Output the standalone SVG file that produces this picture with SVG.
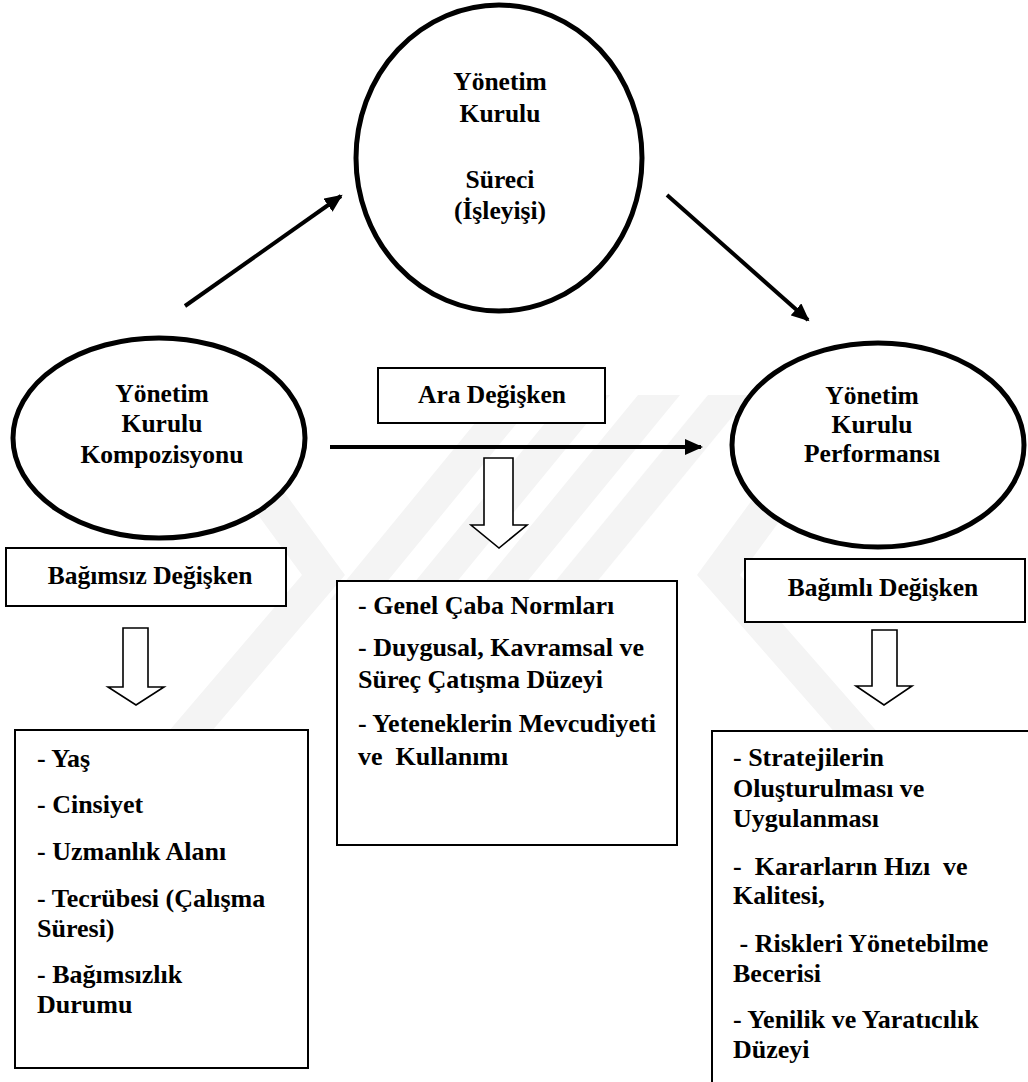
<svg xmlns="http://www.w3.org/2000/svg" width="1028" height="1082" viewBox="0 0 1028 1082">
<defs>
<style>
text{font-family:"Liberation Serif","Times New Roman",Times,serif;font-weight:bold;fill:#000}
.lbl{font-size:25.5px;text-anchor:middle}
.lst{font-size:26px}
.ell{fill:#fff;stroke:#000;stroke-width:5}
.box{fill:#fff;stroke:#000;stroke-width:2}
.hol{fill:#fff;stroke:#000;stroke-width:1.6;stroke-linejoin:miter}
.con{stroke:#000;stroke-width:4;fill:none}
.wm{fill:#f4f4f4}
</style>
<marker id="ah" markerUnits="userSpaceOnUse" markerWidth="20" markerHeight="16" refX="16" refY="8" orient="auto">
<path d="M0,0 L18,8 L0,16 Z" fill="#000"/>
</marker>
</defs>
<rect width="1028" height="1082" fill="#fff"/>
<g id="watermark">
<polygon class="wm" points="225,470 268,470 345,575 200,745 157,745 302,575"/>
<polygon class="wm" points="330,600 372,600 540,395 498,395"/>
<polygon class="wm" points="400,600 442,600 610,395 568,395"/>
<polygon class="wm" points="470,600 512,600 680,395 638,395"/>
<polygon class="wm" points="540,600 582,600 750,395 708,395"/>
<polygon class="wm" points="785,455 828,455 740,575 880,735 837,735 697,575"/>
</g>
<g id="connectors">
<line class="con" x1="185" y1="306" x2="341" y2="196" marker-end="url(#ah)"/>
<line class="con" x1="667" y1="195" x2="808" y2="320" marker-end="url(#ah)"/>
<line class="con" x1="330" y1="447" x2="701" y2="447" marker-end="url(#ah)"/>
<path class="hol" d="M123,628 H148 V687 H164 L136,705 L108,687 H123 Z"/>
<path class="hol" d="M484,458 H513 V525 H527 L499,548 L471,525 H484 Z"/>
<path class="hol" d="M872,630 H897 V686 H912 L884,705 L856,686 H872 Z"/>
</g>
<g id="node-surec">
<ellipse class="ell" cx="499" cy="158" rx="143" ry="153"/>
<text class="lbl" x="500" y="90">Yönetim</text>
<text class="lbl" x="500" y="122">Kurulu</text>
<text class="lbl" x="500" y="188">Süreci</text>
<text class="lbl" x="500" y="219">(İşleyişi)</text>
</g>
<g id="node-kompozisyon">
<ellipse class="ell" cx="159" cy="438" rx="146" ry="100"/>
<text class="lbl" x="162" y="402">Yönetim</text>
<text class="lbl" x="162" y="432">Kurulu</text>
<text class="lbl" x="162" y="463">Kompozisyonu</text>
</g>
<g id="node-performans">
<ellipse class="ell" cx="878" cy="445" rx="146" ry="102"/>
<text class="lbl" x="872" y="404">Yönetim</text>
<text class="lbl" x="872" y="433">Kurulu</text>
<text class="lbl" x="872" y="462">Performansı</text>
</g>
<g id="node-ara">
<rect class="box" x="378" y="368" width="227" height="55"/>
<text class="lbl" x="492" y="403">Ara Değişken</text>
</g>
<g id="node-bagimsiz">
<rect class="box" x="6" y="548" width="280" height="58"/>
<text class="lbl" x="150" y="584">Bağımsız Değişken</text>
</g>
<g id="node-bagimli">
<rect class="box" x="745" y="559" width="280" height="63"/>
<text class="lbl" x="883" y="596">Bağımlı Değişken</text>
</g>
<g id="node-ara-list">
<rect class="box" x="337" y="581" width="340" height="264"/>
<text class="lst" x="358" y="614">- Genel Çaba Normları</text>
<text class="lst" x="358" y="656">- Duygusal, Kavramsal ve</text>
<text class="lst" x="358" y="688">Süreç Çatışma Düzeyi</text>
<text class="lst" x="358" y="732">- Yeteneklerin Mevcudiyeti</text>
<text class="lst" x="358" y="765" xml:space="preserve">ve  Kullanımı</text>
</g>
<g id="node-bagimsiz-list">
<rect class="box" x="15" y="730" width="293" height="338"/>
<text class="lst" x="37" y="767">- Yaş</text>
<text class="lst" x="37" y="813">- Cinsiyet</text>
<text class="lst" x="37" y="860">- Uzmanlık Alanı</text>
<text class="lst" x="37" y="907">- Tecrübesi (Çalışma</text>
<text class="lst" x="37" y="937">Süresi)</text>
<text class="lst" x="37" y="983">- Bağımsızlık</text>
<text class="lst" x="37" y="1013">Durumu</text>
</g>
<g id="node-bagimli-list">
<rect class="box" x="712" y="731" width="340" height="400"/>
<text class="lst" x="733" y="766">- Stratejilerin</text>
<text class="lst" x="733" y="797">Oluşturulması ve</text>
<text class="lst" x="733" y="827">Uygulanması</text>
<text class="lst" x="733" y="875" xml:space="preserve">-  Kararların Hızı  ve</text>
<text class="lst" x="733" y="904">Kalitesi,</text>
<text class="lst" x="733" y="952" xml:space="preserve"> - Riskleri Yönetebilme</text>
<text class="lst" x="733" y="982">Becerisi</text>
<text class="lst" x="733" y="1028">- Yenilik ve Yaratıcılık</text>
<text class="lst" x="733" y="1058">Düzeyi</text>
</g>
</svg>
